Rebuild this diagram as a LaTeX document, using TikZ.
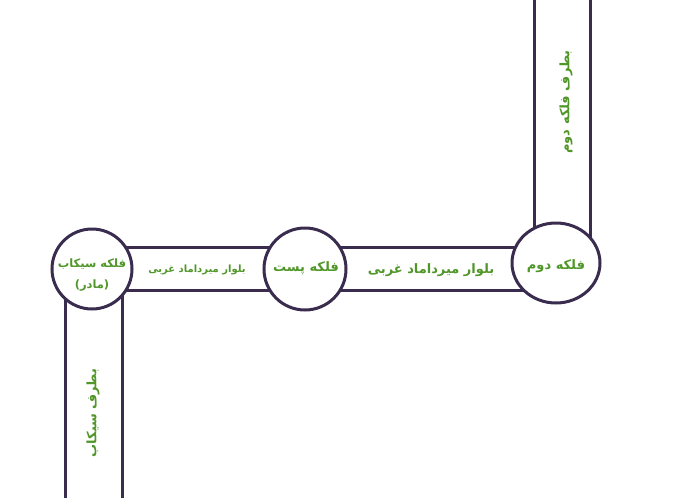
\documentclass[tikz,border=0pt]{standalone}
\usepackage{fontspec}
\newfontfamily\arabicfont[Script=Arabic, BoldFont={DejaVu Sans Bold}]{DejaVu Sans}
\TeXXeTstate=1
\usetikzlibrary{backgrounds}

\definecolor{roadline}{RGB}{58,44,78}
\definecolor{labelgreen}{RGB}{80,150,40}

\tikzset{
  square/.style={draw=roadline, line width=3pt, fill=white, ellipse},
  road/.style={draw=roadline, line width=3pt},
  label/.style={text=labelgreen, font=\arabicfont\bfseries\fontsize{13}{15}\selectfont},
  smalllabel/.style={text=labelgreen, font=\arabicfont\bfseries\fontsize{10}{12}\selectfont},
}

\begin{document}
\begin{tikzpicture}[%
      x=1pt, y=-1pt,
      ellipse/.style={shape=circle, inner sep=0pt},
      ]
      \useasboundingbox (0,0) rectangle (673,498);

      % squares
      \node[square, minimum size=80pt] (sikab) at (92,269) {};
      \node[square, minimum size=82pt] (post) at (305,269) {};
      \node[square, minimum size=80pt, xscale=1.1] (doum) at (556,263) {};

      \node[label, align=center, font=\arabicfont\bfseries\fontsize{11.5}{14}\selectfont] (sikabtext) at (92,275)
        {\beginR فلکه سیکاب\endR\\[7pt]\beginR(مادر)\endR};
      \node[label] (posttext) at (306,268) {\beginR فلکه پست\endR};
      \node[label] (doumtext) at (556,266) {\beginR فلکه دوم\endR};

      % roads
      \begin{scope}[on background layer]
        \draw[road] (sikab.center |- 0,247) -- (post.center |- 0,247);
        \draw[road] (sikab.center |- 0,290) -- (post.center |- 0,290);
        \draw[road] (post.center |- 0,247) -- (doum.center |- 0,247);
        \draw[road] (post.center |- 0,290) -- (doum.center |- 0,290);
        \draw[road] (534,-5) -- (534,0 |- doum.center);
        \draw[road] (590,-5) -- (590,0 |- doum.center);
        \draw[road] (65,0 |- sikab.center) -- (65,503);
        \draw[road] (122,0 |- sikab.center) -- (122,503);
      \end{scope}

      \node[smalllabel] (blvdwest) at (197,270) {\beginR بلوار میرداماد غربی\endR};
      \node[label] (blvdeast) at (431,270) {\beginR بلوار میرداماد غربی\endR};
      \node[label, rotate=90] (todoum) at (566,102) {\beginR بطرف فلکه دوم\endR};
      \node[label, rotate=90] (tosikab) at (93,413) {\beginR بطرف سیکاب\endR};
\end{tikzpicture}
\end{document}
